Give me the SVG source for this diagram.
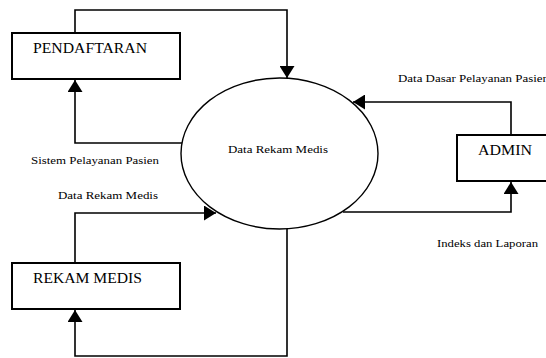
<svg xmlns="http://www.w3.org/2000/svg" width="546" height="358" viewBox="0 0 546 358">
  <style>
    .box { fill: #fff; stroke: #000; stroke-width: 2; }
    .proc { fill: #fff; stroke: #000; stroke-width: 1.4; }
    .flow { fill: none; stroke: #000; stroke-width: 1.6; marker-end: url(#arrow); }
    text { font-family: 'Liberation Serif', 'Times New Roman', Times, serif; fill: #000; }
    .big { font-size: 15.5px; }
    .small { font-size: 10.5px; }
  </style>
  <defs>
    <marker id="arrow" markerUnits="userSpaceOnUse" markerWidth="14" markerHeight="15" refX="12" refY="7.5" orient="auto">
      <path d="M0,0 L12,7.5 L0,15 Z" fill="#000"/>
    </marker>
  </defs>
  <rect width="546" height="358" fill="#fff"/>

  <g id="connectors">
    <path class="flow" d="M75,33 V10 H287 V78"/>
    <path class="flow" d="M182,143 H75 V80"/>
    <path class="flow" d="M511,135 V102 H353"/>
    <path class="flow" d="M343,212 H511 V182"/>
    <path class="flow" d="M75,263 V213 H216"/>
    <path class="flow" d="M287,229 V356 H75 V310"/>
  </g>

  <g id="node-pendaftaran">
    <rect class="box" x="12" y="33" width="168" height="46"/>
    <text class="big" x="33" y="53" font-family="Liberation Serif, serif" textLength="114" lengthAdjust="spacingAndGlyphs">PENDAFTARAN</text>
  </g>

  <g id="node-rekam-medis">
    <rect class="box" x="12" y="263" width="168" height="46"/>
    <text class="big" x="33" y="283" font-family="Liberation Serif, serif" textLength="109" lengthAdjust="spacingAndGlyphs">REKAM MEDIS</text>
  </g>

  <g id="node-admin">
    <rect class="box" x="457" y="135" width="100" height="46"/>
    <text class="big" x="478" y="155" font-family="Liberation Serif, serif" textLength="54" lengthAdjust="spacingAndGlyphs">ADMIN</text>
  </g>

  <g id="node-data-rekam-medis">
    <ellipse class="proc" cx="279.5" cy="153.5" rx="98.5" ry="75.5"/>
    <text class="small" x="228" y="153" font-family="Liberation Serif, serif" textLength="100" lengthAdjust="spacingAndGlyphs">Data Rekam  Medis</text>
  </g>

  <g id="labels">
    <text class="small" x="31" y="164" font-family="Liberation Serif, serif" textLength="128" lengthAdjust="spacingAndGlyphs">Sistem Pelayanan  Pasien</text>
    <text class="small" x="398" y="82" font-family="Liberation Serif, serif" textLength="151" lengthAdjust="spacingAndGlyphs">Data Dasar  Pelayanan  Pasien</text>
    <text class="small" x="58" y="199" font-family="Liberation Serif, serif" textLength="100" lengthAdjust="spacingAndGlyphs">Data Rekam  Medis</text>
    <text class="small" x="437" y="247" font-family="Liberation Serif, serif" textLength="101" lengthAdjust="spacingAndGlyphs">Indeks dan Laporan</text>
  </g>
</svg>
